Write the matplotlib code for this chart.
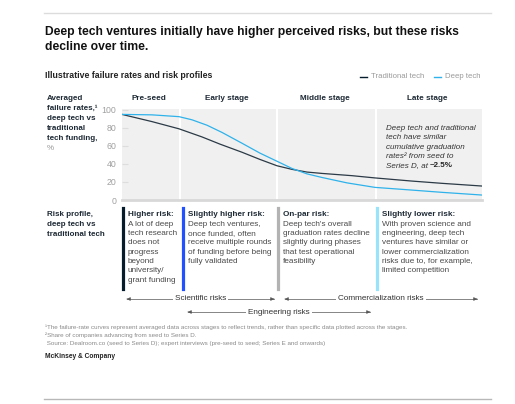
import matplotlib.pyplot as plt

plt.rcParams['font.family'] = ['Liberation Sans', 'DejaVu Sans']

# data (x = progress across the stages, 0..360)
stages = ['Pre-seed', 'Early stage', 'Middle stage', 'Late stage']
stage_edges = [0, 58, 155, 254, 360]

trad_x = [0, 30, 57, 80, 98, 120, 138, 155, 170, 185, 200, 230, 253, 290, 320, 360]
trad_y = [95, 87, 79, 70, 62, 53, 45, 38, 34, 31, 29.5, 27, 24.5, 21, 18.5, 15.5]

deep_x = [0, 30, 57, 70, 85, 100, 120, 138, 155, 170, 185, 200, 225, 253, 290, 320, 360]
deep_y = [95, 94.5, 92.5, 89, 83, 75, 63, 52, 43, 35, 29, 25, 19, 14, 11, 8.5, 5.5]

yticks = [0, 20, 40, 60, 80, 100]

risk_heads = ['Higher risk:', 'Slightly higher risk:', 'On-par risk:', 'Slightly lower risk:']
risk_texts = [
    ['A lot of deep', 'tech research', 'does not', 'progress', 'beyond', 'university/', 'grant funding'],
    ['Deep tech ventures,', 'once funded, often', 'receive multiple rounds', 'of funding before being', 'fully validated'],
    ["Deep tech's overall", 'graduation rates decline', 'slightly during phases', 'that test operational', 'feasibility'],
    ['With proven science and', 'engineering, deep tech', 'ventures have similar or',
     'lower commercialization', 'risks due to, for example,', 'limited competition'],
]
risk_colors = ['#051c2c', '#2251ff', '#b3b3b3', '#99e3fb']

NAVY = '#051c2c'
BLUE = '#2fb2ea'
GRAY = '#9a9a9a'
TXT = '#4a4a4a'

W, H = 515, 404


def fx(x):
    return x / W


def fy(y):
    return 1 - y / H


fig = plt.figure(figsize=(W / 100, H / 100), dpi=100)
fig.patch.set_facecolor('white')

# top / bottom rules
fig.add_artist(plt.Line2D([fx(44), fx(491)], [fy(12.5), fy(12.5)], color='#dcdcdc', lw=1))
fig.add_artist(plt.Line2D([fx(44), fx(491)], [fy(399), fy(399)], color='#b8b8b8', lw=1))

# title
fig.text(fx(45), fy(32), 'Deep tech ventures initially have higher perceived risks, but these risks',
         fontsize=8.7, fontweight='bold', color='#111111', va='center')
fig.text(fx(45), fy(47.5), 'decline over time.',
         fontsize=8.7, fontweight='bold', color='#111111', va='center')

fig.text(fx(45), fy(76), 'Illustrative failure rates and risk profiles',
         fontsize=6.3, fontweight='bold', color='#222222', va='center')

# legend
fig.add_artist(plt.Line2D([fx(360), fx(367)], [fy(77), fy(77)], color=NAVY, lw=1))
fig.text(fx(371), fy(77), 'Traditional tech', fontsize=5.6, color=GRAY, va='center')
fig.add_artist(plt.Line2D([fx(434), fx(441)], [fy(77), fy(77)], color=BLUE, lw=1))
fig.text(fx(445), fy(77), 'Deep tech', fontsize=5.6, color=GRAY, va='center')

# left labels
left1 = ['Averaged', 'failure rates,\u00b9', 'deep tech vs', 'traditional', 'tech funding,']
for i, s in enumerate(left1):
    fig.text(fx(47), fy(98 + 10 * i), s, fontsize=5.8, fontweight='bold', color='#1e2a35', va='center')
fig.text(fx(47), fy(148), '%', fontsize=5.8, color=GRAY, va='center')

left2 = ['Risk profile,', 'deep tech vs', 'traditional tech']
for i, s in enumerate(left2):
    fig.text(fx(47), fy(215 + 9.6 * i), s, fontsize=5.8, fontweight='bold', color='#1e2a35', va='center')

# chart
ax = fig.add_axes([fx(122), fy(200), (482 - 122) / W, (200 - 109) / H])
ax.set_facecolor('white')
for i in range(len(stages)):
    lo = stage_edges[i] + (1.2 if i > 0 else 0)
    hi = stage_edges[i + 1] - (1.2 if i < len(stages) - 1 else 0)
    ax.axvspan(lo, hi, color='#f0f0f0', lw=0, zorder=0)
    fig.text(fx(122 + (stage_edges[i] + stage_edges[i + 1]) / 2 - 2), fy(98), stages[i],
             fontsize=5.9, fontweight='bold', color='#1e2a35', ha='center', va='center')

ax.plot(trad_x, trad_y, color='#2b3a46', lw=0.9, zorder=3)
ax.plot(deep_x, deep_y, color=BLUE, lw=0.9, zorder=3)

ax.set_xlim(0, 360)
ax.set_ylim(0, 101)
ax.set_yticks(yticks)
ax.set_xticks([])
ax.tick_params(axis='y', direction='in', length=4, color='#dddddd', labelsize=6.3,
               labelcolor='#a0a0a0', pad=4)
for s in ['top', 'right', 'left']:
    ax.spines[s].set_visible(False)
ax.spines['bottom'].set_color('#d8d8d8')
ax.spines['bottom'].set_linewidth(2)

# annotation in late stage
note = ['Deep tech and traditional', 'tech have similar', 'cumulative graduation',
        'rates\u00b2 from seed to']
for i, s in enumerate(note):
    fig.text(fx(386), fy(128.5 + 9.4 * i), s, fontsize=5.8, style='italic', color='#333333', va='center')
fig.text(fx(386), fy(166), 'Series D, at', fontsize=5.8, style='italic', color='#333333', va='center')
fig.text(fx(430), fy(166), '~2.5%', fontsize=5.8, fontweight='bold', color='#222222', va='center')

# risk profile columns
bar_x = [123, 183, 278, 377]
for bx, head, lines, c in zip(bar_x, risk_heads, risk_texts, risk_colors):
    fig.add_artist(plt.Line2D([fx(bx), fx(bx)], [fy(208), fy(289)], color=c, lw=2.3))
    fig.text(fx(bx + 5), fy(214.5), head, fontsize=5.9, fontweight='bold', color='#1e2a35', va='center')
    for i, s in enumerate(lines):
        fig.text(fx(bx + 5), fy(224 + 9.35 * i), s, fontsize=5.9, color=TXT, va='center')


# risk arrows
def risk_arrow(x0, x1, y, label):
    fig.add_artist(plt.Line2D([fx(x0 + 3), fx(x1 - 3)], [fy(y), fy(y)], color='#555555', lw=0.5))
    ax.annotate('', xy=(fx(x0), fy(y)), xytext=(fx(x0 + 6), fy(y)), xycoords='figure fraction',
                arrowprops=dict(arrowstyle='-|>', color='#555555', lw=0.5, mutation_scale=5),
                annotation_clip=False)
    ax.annotate('', xy=(fx(x1), fy(y)), xytext=(fx(x1 - 6), fy(y)), xycoords='figure fraction',
                arrowprops=dict(arrowstyle='-|>', color='#555555', lw=0.5, mutation_scale=5),
                annotation_clip=False)
    fig.text(fx((x0 + x1) / 2), fy(y), label, fontsize=5.9, color='#333333', ha='center', va='center',
             bbox=dict(facecolor='white', edgecolor='none', pad=1.5))


risk_arrow(124, 277, 299, 'Scientific risks')
risk_arrow(282, 480, 299, 'Commercialization risks')
risk_arrow(185, 373, 312, 'Engineering risks')

# footnotes
foot = ['\u00b9The failure-rate curves represent averaged data across stages to reflect trends, rather than specific data plotted across the stages.',
        '\u00b2Share of companies advancing from seed to Series D.',
        ' Source: Dealroom.co (seed to Series D); expert interviews (pre-seed to seed; Series E and onwards)']
for i, s in enumerate(foot):
    fig.text(fx(45), fy(327 + 8.2 * i), s, fontsize=4.5, color='#8a8a8a', va='center')

fig.text(fx(45), fy(357), 'McKinsey & Company', fontsize=4.8, fontweight='bold', color='#222222', va='center')

fig.savefig('out.png', dpi=100)
